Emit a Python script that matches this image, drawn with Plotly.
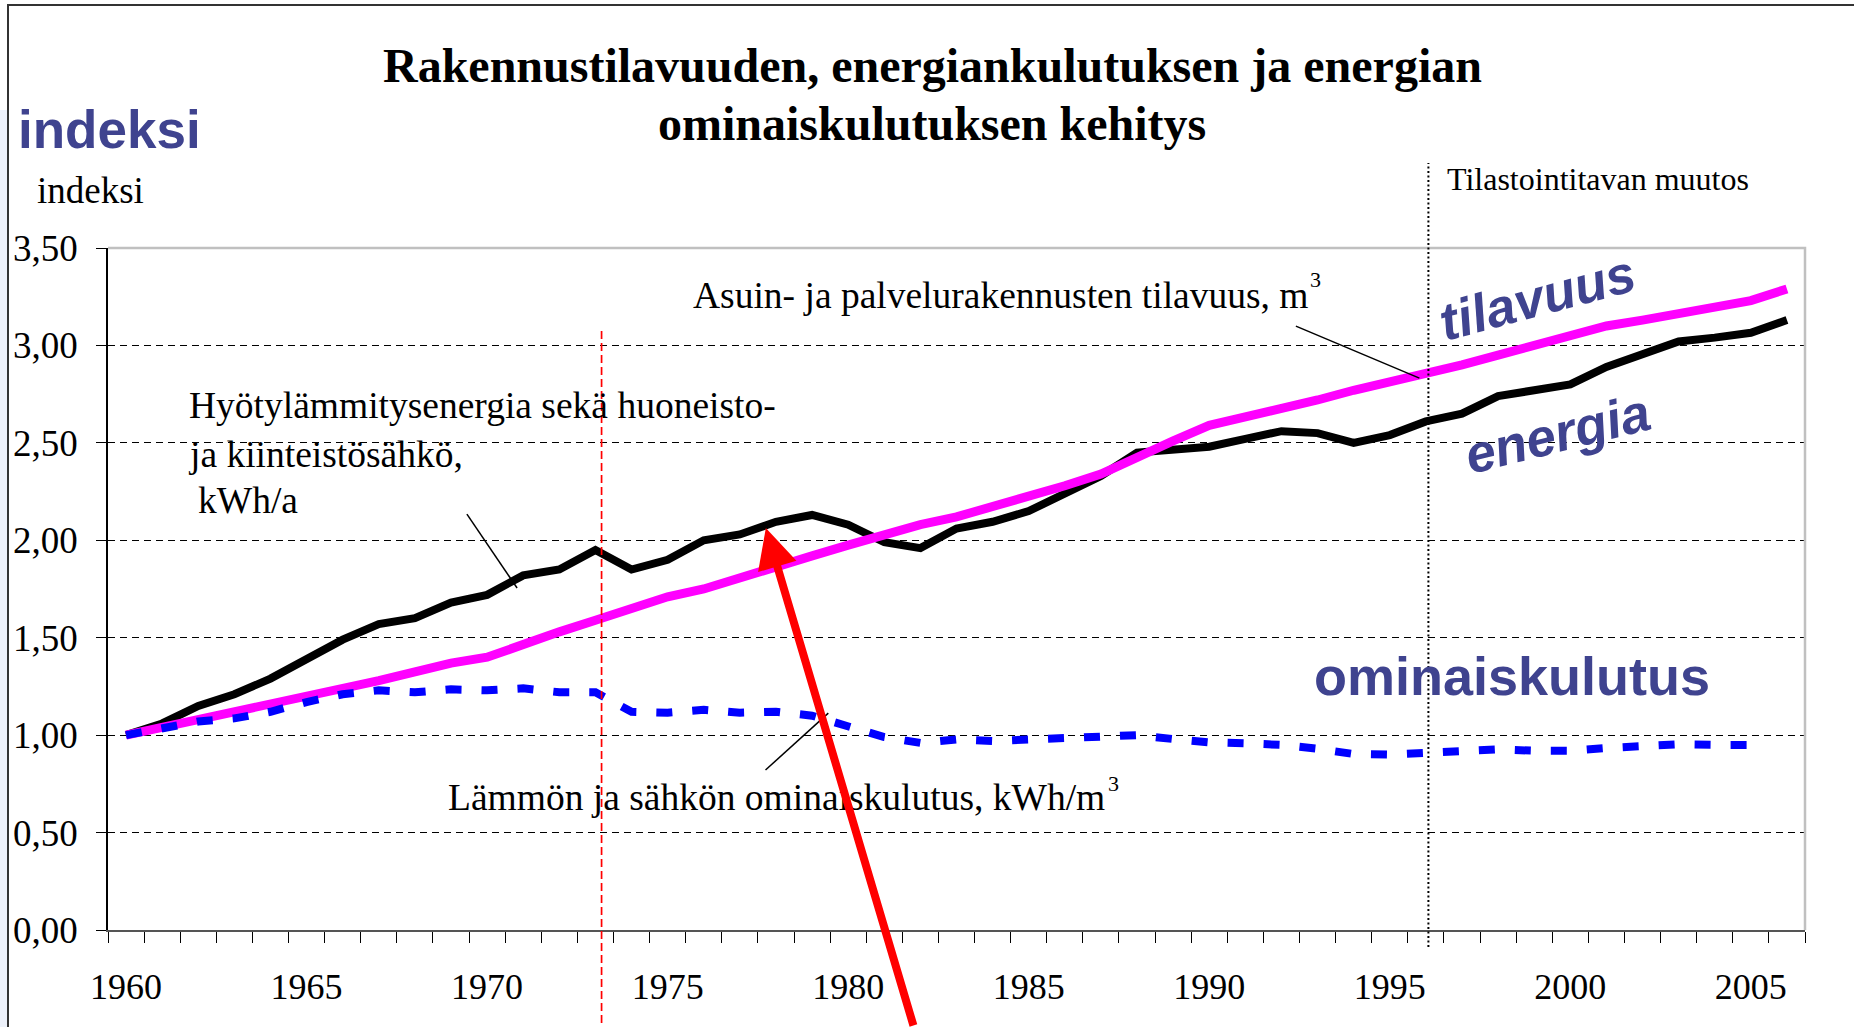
import plotly.graph_objects as go

# ---------------- data ----------------
years = list(range(1960, 2007))

tilavuus = [1.00, 1.04, 1.08, 1.115, 1.15, 1.20, 1.24, 1.28, 1.325, 1.37,
            1.40, 1.47, 1.53, 1.59, 1.65, 1.71, 1.75, 1.81, 1.865, 1.92,
            1.975, 2.03, 2.08, 2.12, 2.17, 2.22, 2.28, 2.34, 2.43, 2.51,
            2.59, 2.63, 2.68, 2.72, 2.77, 2.81, 2.86, 2.90, 2.95, 3.00,
            3.06, 3.10, 3.13, 3.16, 3.20, 3.23, 3.29]

energia = [1.00, 1.06, 1.15, 1.21, 1.29, 1.385, 1.49, 1.57, 1.60, 1.68,
           1.72, 1.82, 1.85, 1.95, 1.85, 1.90, 2.00, 2.03, 2.095, 2.13,
           2.08, 1.99, 1.96, 2.06, 2.095, 2.15, 2.24, 2.33, 2.45, 2.47,
           2.48, 2.52, 2.56, 2.55, 2.50, 2.54, 2.61, 2.65, 2.74, 2.77,
           2.80, 2.89, 2.95, 3.02, 3.04, 3.065, 3.13]

ominaiskulutus = [1.00, 1.03, 1.07, 1.086, 1.12, 1.17, 1.21, 1.23, 1.22, 1.235,
                  1.23, 1.24, 1.22, 1.22, 1.12, 1.115, 1.13, 1.115, 1.12, 1.10,
                  1.05, 0.99, 0.96, 0.978, 0.97, 0.975, 0.99, 0.995, 1.00, 0.98,
                  0.963, 0.958, 0.95, 0.93, 0.903, 0.90, 0.91, 0.91, 0.927, 0.92,
                  0.92, 0.934, 0.944, 0.953, 0.95, 0.95, None]

ytick_vals = [0.0, 0.5, 1.0, 1.5, 2.0, 2.5, 3.0, 3.5]
ytick_text = ["0,00", "0,50", "1,00", "1,50", "2,00", "2,50", "3,00", "3,50"]
xtick_vals = [1960, 1965, 1970, 1975, 1980, 1985, 1990, 1995, 2000, 2005]
xtick_text = [str(v) for v in xtick_vals]
xminor_vals = [1959.5 + i for i in range(48)]

# ---------------- geometry helpers ----------------
W, H = 1854, 1027
L, R, T, B = 108, 49, 248, 97
PW, PH = W - L - R, H - T - B


def xp(px):
    return (px - L) / PW


def yp(py):
    return (H - B - py) / PH


SERIF = "Liberation Serif, Times New Roman, serif"
SANS = "Liberation Sans, Arial, sans-serif"
BLUE_TXT = "#3F438F"

fig = go.Figure()
fig.add_trace(go.Scatter(x=years, y=energia, mode="lines",
                         line=dict(color="black", width=8), hoverinfo="skip"))
fig.add_trace(go.Scatter(x=years, y=tilavuus, mode="lines",
                         line=dict(color="#FF00FF", width=9), hoverinfo="skip"))
fig.add_trace(go.Scatter(x=years, y=ominaiskulutus, mode="lines",
                         line=dict(color="#0000FF", width=8, dash="16px,20px"),
                         hoverinfo="skip"))

shapes = [
    # light strip at far left
    dict(type="rect", xref="paper", yref="paper", x0=xp(0), x1=xp(8),
         y0=yp(1030), y1=yp(110), fillcolor="#EDF1FA", line=dict(width=0),
         layer="below"),
    # outer frame (top + left)
    dict(type="path", xref="paper", yref="paper",
         path=f"M {xp(1870)},{yp(5)} L {xp(8)},{yp(5)} L {xp(8)},{yp(1040)}",
         line=dict(color="#333333", width=2)),
    # plot area border top/right
    dict(type="path", xref="paper", yref="paper",
         path="M 0,1 L 1,1 L 1,0", line=dict(color="#C0C0C0", width=2.5)),
    # red dashed vertical line (1973)
    dict(type="line", xref="x", yref="paper", x0=1973.17, x1=1973.17,
         y0=yp(1035), y1=yp(329), line=dict(color="#FF0000", width=1.7, dash="8px,4px")),
    # black dotted vertical line (1996)
    dict(type="line", xref="x", yref="paper", x0=1996.07, x1=1996.07,
         y0=yp(947), y1=yp(163), line=dict(color="black", width=2, dash="2px,2.5px")),
    # pointer lines
    dict(type="line", xref="x", yref="y", x0=1969.44, y0=2.134, x1=1970.83, y1=1.755,
         line=dict(color="black", width=1.5)),
    dict(type="line", xref="x", yref="y", x0=1992.40, y0=3.099, x1=1995.82, y1=2.832,
         line=dict(color="black", width=1.5)),
    dict(type="line", xref="x", yref="y", x0=1977.71, y0=0.821, x1=1979.45, y1=1.113,
         line=dict(color="black", width=1.5)),
]

annotations = []


def txt(text, px, py, size, family=SERIF, color="black", xanchor="left",
        bold=False, italic=False, angle=0):
    t = text
    if bold:
        t = f"<b>{t}</b>"
    if italic:
        t = f"<i>{t}</i>"
    annotations.append(dict(text=t, xref="paper", yref="paper", x=xp(px), y=yp(py),
                            xanchor=xanchor, yanchor="middle", showarrow=False,
                            textangle=angle,
                            font=dict(size=size, family=family, color=color)))


# title
txt("Rakennustilavuuden, energiankulutuksen ja energian", 932, 65.5, 48,
    xanchor="center", bold=True)
txt("ominaiskulutuksen kehitys", 932, 124, 48, xanchor="center", bold=True)
# indeksi labels
txt("indeksi", 16, 130, 53, family=SANS, color=BLUE_TXT, bold=True)
txt("indeksi", 35, 190.5, 37)
# statistics change
txt("Tilastointitavan muutos", 1445, 179, 32)
# volume label
txt("Asuin- ja palvelurakennusten tilavuus, m", 691, 295.5, 37.5)
txt("3", 1308, 279, 22)
# energy label
txt("Hyötylämmitysenergia sekä huoneisto-", 187, 405, 37.5)
txt("ja kiinteistösähkö,", 186, 454.5, 37.5)
txt("kWh/a", 196, 500, 37.5)
# specific consumption label
txt("Lämmön ja sähkön ominaiskulutus, kWh/m", 446, 797.5, 37.5)
txt("3", 1106, 783, 22)
# big blue words
txt("ominaiskulutus", 1511.5, 676, 54, family=SANS, color=BLUE_TXT,
    xanchor="center", bold=True)
txt("tilavuus", 1537, 297, 53, family=SANS, color=BLUE_TXT, xanchor="center",
    bold=True, italic=True, angle=-15)
txt("energia", 1557, 433, 53, family=SANS, color=BLUE_TXT, xanchor="center",
    bold=True, italic=True, angle=-14)

# red arrow
annotations.append(dict(text="", x=1977.72, y=2.063, xref="x", yref="y",
                        ax=148, ay=505, showarrow=True, arrowhead=2, arrowsize=1,
                        arrowwidth=8, arrowcolor="#FF0000", standoff=0))

fig.update_layout(
    width=W, height=H,
    margin=dict(l=L, r=R, t=T, b=B, autoexpand=False),
    paper_bgcolor="white", plot_bgcolor="white",
    showlegend=False,
    shapes=shapes,
    annotations=annotations,
    xaxis=dict(
        range=[1959.5, 2006.5], automargin=False,
        tickmode="array", tickvals=xtick_vals, ticktext=xtick_text,
        ticks="", showgrid=False, zeroline=False,
        showline=True, linecolor="#555555", linewidth=2,
        tickfont=dict(size=36, family=SERIF, color="black"),
        ticklabelstandoff=24,
        minor=dict(tickmode="array", tickvals=xminor_vals, ticks="outside",
                   ticklen=11, tickwidth=1, tickcolor="black", showgrid=False),
    ),
    yaxis=dict(
        range=[0, 3.5], automargin=False,
        tickmode="array", tickvals=ytick_vals, ticktext=ytick_text,
        ticks="outside", ticklen=10, tickwidth=1, tickcolor="black",
        showline=True, linecolor="black", linewidth=1.5,
        showgrid=True, gridcolor="black", gridwidth=1, griddash="7px,5px",
        zeroline=False,
        tickfont=dict(size=37, family=SERIF, color="black"),
        ticklabelstandoff=11,
    ),
)

fig.write_html(
    "out.html",
    config={"displayModeBar": False},
    post_script="document.body.style.margin='0';document.body.style.overflow='hidden';",
)
